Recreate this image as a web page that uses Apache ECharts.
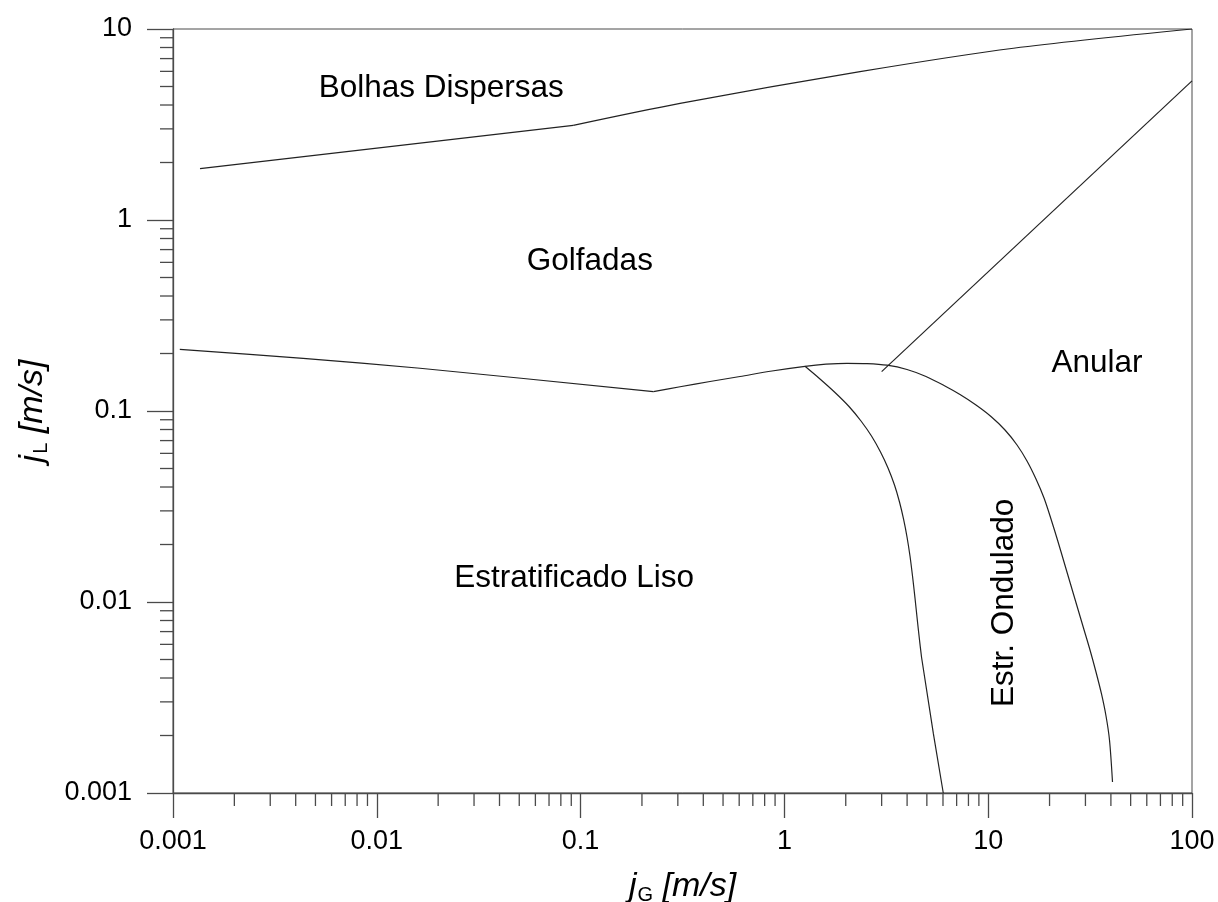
<!DOCTYPE html>
<html>
<head>
<meta charset="utf-8">
<script src="https://cdn.jsdelivr.net/npm/echarts@6/dist/echarts.min.js"></script>
<style>
  html, body { margin: 0; padding: 0; background: #fff; }
  #chart { width: 1218px; height: 902px; }
</style>
</head>
<body>
<div id="chart"></div>
<script>
// Flow-pattern map for horizontal two-phase flow: jG (gas) vs jL (liquid), both in m/s.

// Axis ticks
const xTickValues = [0.001, 0.01, 0.1, 1, 10, 100];
const xTickLabels = ['0.001', '0.01', '0.1', '1', '10', '100'];
const yTickValues = [0.001, 0.01, 0.1, 1, 10];
const yTickLabels = ['0.001', '0.01', '0.1', '1', '10'];
const minorMultipliers = [2, 3, 4, 5, 6, 7, 8, 9];

// Dispersed bubbles / slug boundary
const bubblesLowJG = [0.001357, 0.092];
const bubblesLowJL = [1.856, 3.13];
const bubblesHighJG = [0.092, 0.3077, 2.35, 13.3, 100];
const bubblesHighJL = [3.13, 4.08, 5.98, 7.93, 10];

// Stratified / slug boundary (left, nearly straight part)
const stratLeftJG = [0.00108, 0.00435, 0.01629, 0.2276];
const stratLeftJL = [0.2104, 0.1888, 0.1674, 0.1262];

// Stratified / intermittent+annular boundary (curved part down to the bottom)
const stratArcJG = [0.2276, 0.3077, 0.4315, 0.6053, 0.869, 1.262, 1.600,
  2.028, 2.543, 3.187, 3.996, 4.952, 6.069, 7.272, 8.712, 10.32, 12.09, 13.85, 15.50,
  17.16, 18.79, 20.33, 21.88, 23.55, 25.34, 27.27, 29.35, 31.59, 33.80, 35.97, 37.85,
  39.37, 40.73];
const stratArcJL = [0.1262, 0.1340, 0.1427, 0.1516, 0.1620, 0.1714, 0.1758,
  0.1777, 0.1771, 0.1737, 0.1649, 0.1516, 0.1360, 0.1220, 0.1075, 0.09358, 0.07953, 0.06637, 0.05473,
  0.04405, 0.03504, 0.02720, 0.02112, 0.01620, 0.01242, 0.009529, 0.007309, 0.005607, 0.004300, 0.003299, 0.002530,
  0.001895, 0.001142];

// Smooth / wavy stratified boundary (upper bend, then the straight lower run)
const wavyJG = [1.262, 1.495, 1.771, 2.075, 2.376, 2.675, 2.962, 3.224, 3.469, 3.671,
  3.841, 3.996, 4.133, 4.252, 4.373, 4.489, 4.602, 4.707];
const wavyJL = [0.1714, 0.1471, 0.1250, 0.1056, 0.08864, 0.07398, 0.06100, 0.05030, 0.04098, 0.03339,
  0.02720, 0.02189, 0.01741, 0.01368, 0.01049, 0.008049, 0.006325, 0.005153];
const wavyLowJG = [4.707, 5.38, 6.02];
const wavyLowJL = [0.005153, 0.00205, 0.001];

// Slug / annular boundary
const annularJG = [3.0, 100];
const annularJL = [0.1607, 5.35];

// Region names and where they sit
const regionNames = ['Bolhas Dispersas', 'Golfadas', 'Estratificado Liso', 'Anular', 'Estr. Ondulado'];
const regionJG = [0.0207, 0.111, 0.0929, 34.2, 12.0];
const regionJL = [4.91, 0.61, 0.01336, 0.1784, 0.00989];
const regionRotate = [0, 0, 0, 0, 90];

const zip = (xs, ys) => xs.map((x, i) => [x, ys[i]]);
const decadeIndex = v => Math.round(Math.log10(v));

const minorX = [];
xTickValues.slice(0, -1).forEach(d => minorMultipliers.forEach(m => minorX.push(d * m)));
const minorY = [];
yTickValues.slice(0, -1).forEach(d => minorMultipliers.forEach(m => minorY.push(d * m)));

const AXIS_COLOR = '#4a4a4a';
const CURVE_COLOR = '#222';
const TEXT_COLOR = '#000';
const FONT = '"Liberation Sans", Arial, sans-serif';

function curve(data, smooth) {
  return {
    type: 'line', data, smooth: smooth ? 0.3 : false, symbol: 'none',
    lineStyle: { color: CURVE_COLOR, width: 1.2 }, silent: true, z: 3
  };
}

const titleRich = {
  it: { fontSize: 34, fontStyle: 'italic', fontFamily: FONT, color: TEXT_COLOR },
  sub: { fontSize: 20, fontFamily: FONT, color: TEXT_COLOR, padding: [16, 0, 0, 1] }
};

const chart = echarts.init(document.getElementById('chart'), null, { renderer: 'canvas' });

chart.setOption({
  animation: false,
  backgroundColor: '#fff',
  grid: {
    left: 173, right: 26, top: 29, bottom: 109,
    outerBoundsMode: 'none', containLabel: false,
    show: true, borderColor: AXIS_COLOR, borderWidth: 1, backgroundColor: 'transparent'
  },
  xAxis: {
    type: 'log', logBase: 10, min: 0.001, max: 100, splitNumber: 5,
    axisLine: { show: true, onZero: false, lineStyle: { color: AXIS_COLOR, width: 1.3 } },
    axisTick: { show: true, inside: false, length: 25, lineStyle: { color: AXIS_COLOR, width: 1.3 } },
    splitLine: { show: false },
    axisLabel: {
      margin: 35, color: TEXT_COLOR, fontSize: 27, fontFamily: FONT,
      formatter: v => xTickLabels[decadeIndex(v) + 3]
    },
    name: '{it|j}{sub|G}{it| [m/s]}',
    nameLocation: 'middle', nameGap: 76,
    nameTextStyle: { rich: titleRich }
  },
  yAxis: {
    type: 'log', logBase: 10, min: 0.001, max: 10, splitNumber: 4,
    axisLine: { show: true, onZero: false, lineStyle: { color: AXIS_COLOR, width: 1.3 } },
    axisTick: { show: true, inside: false, length: 26, lineStyle: { color: AXIS_COLOR, width: 1.3 } },
    splitLine: { show: false },
    axisLabel: {
      margin: 41, color: TEXT_COLOR, fontSize: 27, fontFamily: FONT,
      formatter: v => yTickLabels[decadeIndex(v) + 3]
    },
    name: '{it|j}{sub|L}{it| [m/s]}',
    nameLocation: 'middle', nameGap: 122, nameRotate: 90,
    nameTextStyle: { rich: titleRich }
  },
  series: [
    curve(zip(bubblesLowJG, bubblesLowJL), false),
    curve(zip(bubblesHighJG, bubblesHighJL), true),
    curve(zip(stratLeftJG, stratLeftJL), true),
    curve(zip(stratArcJG, stratArcJL), true),
    curve(zip(wavyJG, wavyJL), true),
    curve(zip(wavyLowJG, wavyLowJL), false),
    curve(zip(annularJG, annularJL), false),
    {
      // minor ticks on the jG axis, placed through the axis scale
      type: 'custom', silent: true, clip: false, z: 4,
      data: minorX.map(v => [v, 0.001]),
      renderItem: (params, api) => {
        const p = api.coord([api.value(0), api.value(1)]);
        return { type: 'line', shape: { x1: p[0], y1: p[1], x2: p[0], y2: p[1] + 13 },
                 style: { stroke: AXIS_COLOR, lineWidth: 1.3 } };
      }
    },
    {
      // minor ticks on the jL axis
      type: 'custom', silent: true, clip: false, z: 4,
      data: minorY.map(v => [0.001, v]),
      renderItem: (params, api) => {
        const p = api.coord([api.value(0), api.value(1)]);
        return { type: 'line', shape: { x1: p[0] - 13, y1: p[1], x2: p[0], y2: p[1] },
                 style: { stroke: AXIS_COLOR, lineWidth: 1.3 } };
      }
    },
    {
      // region names
      type: 'scatter', silent: true, symbolSize: 0, z: 5,
      itemStyle: { color: 'rgba(0,0,0,0)' },
      data: regionNames.map((n, i) => ({
        name: n, value: [regionJG[i], regionJL[i]],
        label: { rotate: regionRotate[i] }
      })),
      label: {
        show: true, position: 'inside', formatter: p => p.name,
        fontSize: 31.5, fontFamily: FONT, color: TEXT_COLOR,
        textBorderWidth: 0, opacity: 1
      }
    }
  ]
});
</script>
</body>
</html>
